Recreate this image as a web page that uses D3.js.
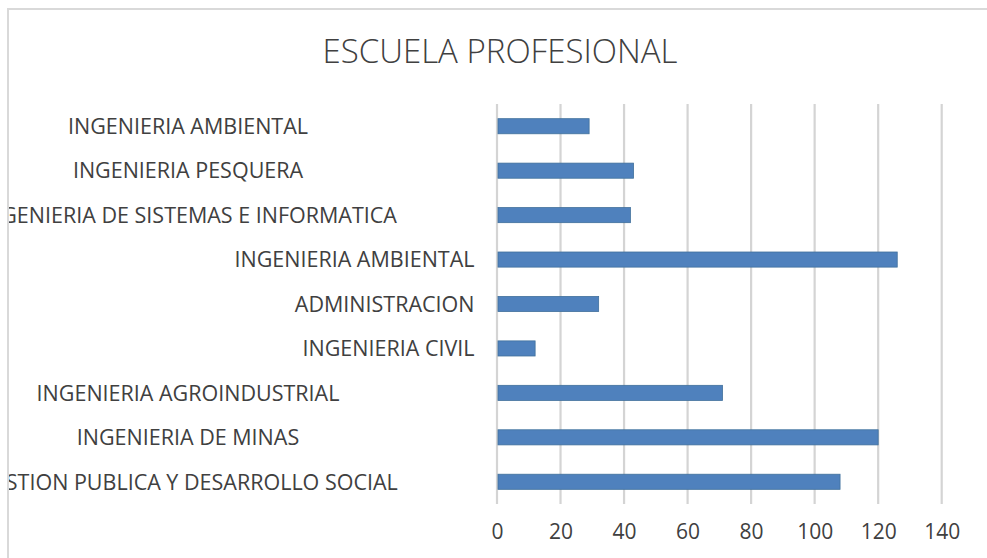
<!DOCTYPE html>
<html>
<head>
<meta charset="utf-8">
<script src="https://cdn.jsdelivr.net/npm/d3@7"></script>
<style>
  body { margin: 0; background: #fff; }
  svg { display: block; font-family: "Open Sans", sans-serif; }
</style>
</head>
<body>
<svg></svg>
<script>
// Chart data (top to bottom as drawn)
var categories = [
  "INGENIERIA AMBIENTAL",
  "INGENIERIA PESQUERA",
  "INGENIERIA DE SISTEMAS E INFORMATICA",
  "INGENIERIA AMBIENTAL ",
  "ADMINISTRACION",
  "INGENIERIA CIVIL",
  "INGENIERIA AGROINDUSTRIAL",
  "INGENIERIA DE MINAS",
  "GESTION PUBLICA Y DESARROLLO SOCIAL"
];
var values = [29, 43, 42, 126, 32, 12, 71, 120, 108];
var xTicks = [0, 20, 40, 60, 80, 100, 120, 140];
var title = "ESCUELA PROFESIONAL";

// Size of the SVG
var width = 987;
var height = 558;

var svg = d3.select("svg").attr("width", width).attr("height", height);

// chart frame (only top and left edges are visible in the picture)
svg.append("rect")
  .attr("x", 8).attr("y", 9)
  .attr("width", width + 20).attr("height", height + 20)
  .attr("fill", "#fff")
  .attr("stroke", "#d9d9d9")
  .attr("stroke-width", 2);

// clip so that long labels are cut at the frame like in the original
svg.append("clipPath").attr("id", "frame")
  .append("rect").attr("x", 9).attr("y", 10).attr("width", width).attr("height", height);

// Title
svg.append("text")
  .attr("x", 500).attr("y", 63)
  .attr("text-anchor", "middle")
  .attr("font-size", 33)
  .attr("font-weight", 300)
  .attr("fill", "#404040")
  .text(title);

// Scales
var plotTop = 104, plotBottom = 504;
var xScale = d3.scaleLinear().domain([0, 140]).range([497, 941.7]);
var yScale = d3.scaleBand().domain(categories).range([plotTop, plotBottom])
  .paddingInner(0.66).paddingOuter(0.33);

// Gridlines
svg.append("g")
  .selectAll("line")
  .data(xTicks)
  .join("line")
  .attr("x1", d => xScale(d)).attr("x2", d => xScale(d))
  .attr("y1", plotTop).attr("y2", plotBottom)
  .attr("stroke", "#d4d4d4")
  .attr("stroke-width", 2.2);

// Bars
svg.append("g")
  .selectAll("rect")
  .data(values)
  .join("rect")
  .attr("x", xScale(0) + 1)
  .attr("y", (d, i) => yScale(categories[i]))
  .attr("width", d => xScale(d) - xScale(0) - 1)
  .attr("height", yScale.bandwidth())
  .attr("fill", "#4f81bd")
  .attr("stroke", "#41719c")
  .attr("stroke-width", 0.8);

// X axis (labels only, no line)
var x_Axis = d3.axisBottom(xScale).tickValues(xTicks).tickSize(0).tickPadding(0);
var xg = svg.append("g").attr("transform", "translate(0," + 539 + ")").call(x_Axis);
xg.select(".domain").remove();
xg.selectAll("text")
  .attr("dy", null)
  .attr("y", 0)
  .attr("font-size", 21)
  .attr("font-family", "Open Sans, sans-serif")
  .attr("fill", "#404040");

// Category labels; some sit centred in the label area, some flush right
var centred = [0, 1, 2, 6, 7, 8];
svg.append("g")
  .attr("clip-path", "url(#frame)")
  .selectAll("text")
  .data(categories)
  .join("text")
  .attr("x", (d, i) => centred.includes(i) ? 188 : 474.5)
  .attr("y", d => yScale(d) + yScale.bandwidth() / 2)
  .attr("dy", "0.36em")
  .attr("text-anchor", (d, i) => centred.includes(i) ? "middle" : "end")
  .attr("font-size", 21.5)
  .attr("fill", "#404040")
  .text(d => d.trim());
</script>
</body>
</html>
